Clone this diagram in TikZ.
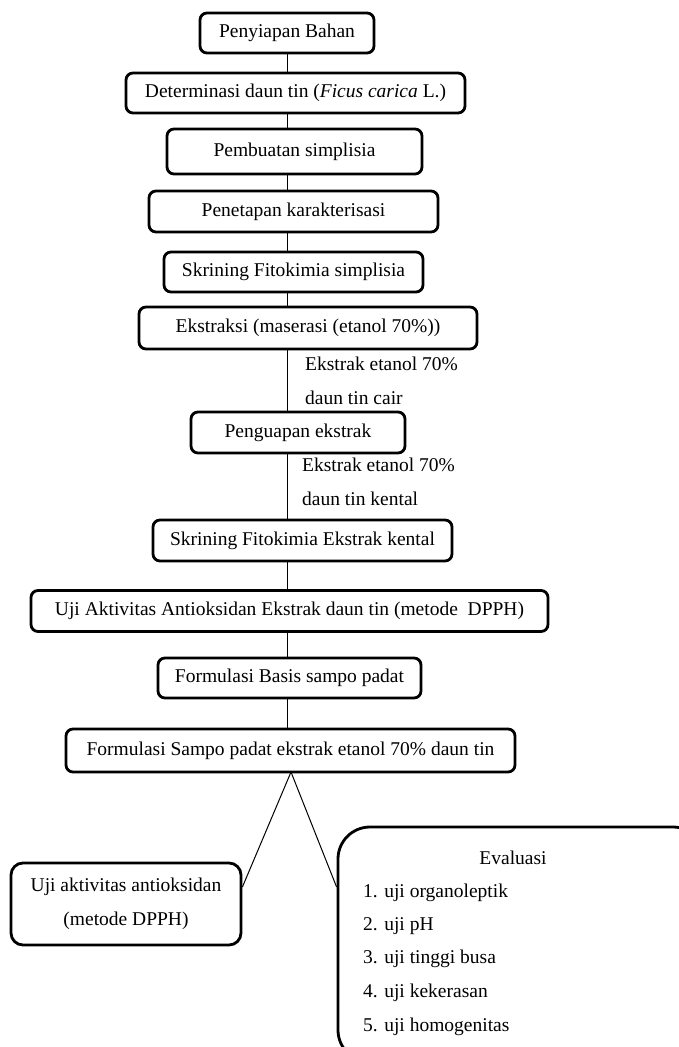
\documentclass[tikz,border=0pt]{standalone}
\usepackage{fontspec}
\setmainfont{Liberation Serif}
\begin{document}
\begin{tikzpicture}[x=1pt,y=-1pt,
  stepbox/.style={draw, line width=2.8pt, rounded corners=7pt, inner sep=0pt, align=center},
  conn/.style={line width=1pt},
  lbl/.style={inner sep=0pt, align=left, anchor=north west, font=\fontsize{19.5}{34}\selectfont},
  every node/.append style={font=\fontsize{19.5}{34}\selectfont}]
\useasboundingbox (0,0) rectangle (679,1047);
\clip (0,0) rectangle (679,1047);
\coordinate (spine) at (287,0);
\node[stepbox, minimum width=174pt, minimum height=40pt] (n1) at (287,33) {Penyiapan Bahan};
\node[stepbox, minimum width=339pt, minimum height=40pt] (n2) at (295.5,93) {Determinasi daun tin (\textit{Ficus carica} L.)};
\node[stepbox, minimum width=255pt, minimum height=45pt] (n3) at (294.5,151.5) {Pembuatan simplisia};
\node[stepbox, minimum width=289pt, minimum height=41pt] (n4) at (293.5,211.5) {Penetapan karakterisasi};
\node[stepbox, minimum width=259pt, minimum height=40pt] (n5) at (293.5,272) {Skrining Fitokimia simplisia};
\node[stepbox, minimum width=338pt, minimum height=42pt] (n6) at (308,328) {Ekstraksi (maserasi (etanol 70\%))};
\node[stepbox, minimum width=214pt, minimum height=41pt] (n7) at (298,432.5) {Penguapan ekstrak};
\node[stepbox, minimum width=299pt, minimum height=41pt] (n8) at (302.5,540.5) {Skrining Fitokimia Ekstrak kental};
\node[stepbox, minimum width=517pt, minimum height=41pt] (n9) at (289.5,611) {Uji Aktivitas Antioksidan Ekstrak daun tin (metode\ \ DPPH)};
\node[stepbox, minimum width=263pt, minimum height=40pt] (n10) at (289.5,678) {Formulasi Basis sampo padat};
\node[stepbox, minimum width=449pt, minimum height=43pt] (n11) at (290.5,750.5) {Formulasi Sampo padat ekstrak etanol 70\% daun tin};
\node[stepbox, rounded corners=12pt, minimum width=230pt, minimum height=82pt] (n12) at (126,904) {Uji aktivitas antioksidan\\(metode DPPH)};
\node[stepbox, rounded corners=32pt, minimum width=367pt, minimum height=235pt] (n13) at (521.5,944.5) {};
\node[lbl, anchor=center] (evt) at (513,858) {Evaluasi};
\node[lbl, anchor=west] (evl) at (363,893) {1. uji organoleptik};
\node[lbl, anchor=west] (ev2) at (363,926) {2. uji pH};
\node[lbl, anchor=west] (ev3) at (363,959) {3. uji tinggi busa};
\node[lbl, anchor=west] (ev4) at (363,993) {4. uji kekerasan};
\node[lbl, anchor=west] (ev5) at (363,1027) {5. uji homogenitas};
\node[lbl, anchor=west] (l1) at (305,381) {Ekstrak etanol 70\%\\daun tin cair};
\node[lbl, anchor=west] (l2) at (302,482) {Ekstrak etanol 70\%\\daun tin kental};
\foreach \a/\b in {n1/n2,n2/n3,n3/n4,n4/n5,n5/n6,n6/n7,n7/n8,n8/n9,n9/n10,n10/n11}
  \draw[conn] (\a.south -| spine) -- (\b.north -| spine);
\coordinate (apex) at (291,772);
\draw[conn] (n12.east |- 0,887) -- (apex) -- (n13.west |- 0,887);
\end{tikzpicture}
\end{document}
